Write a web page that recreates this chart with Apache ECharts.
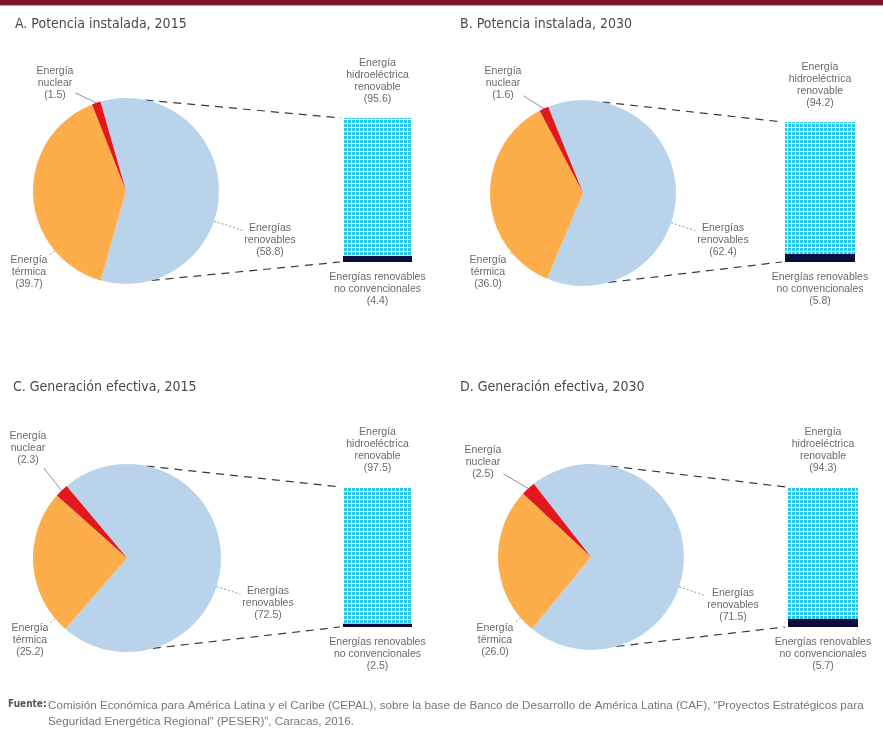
<!DOCTYPE html>
<html><head><meta charset="utf-8">
<script src="https://cdn.jsdelivr.net/npm/echarts@6/dist/echarts.min.js"></script>
<style>html,body{margin:0;padding:0;background:#fff}#c{width:883px;height:745px}</style>
</head><body><div id="c"></div>
<script>
// ---- data ----
const panelTitles = ['A. Potencia instalada, 2015', 'B. Potencia instalada, 2030', 'C. Generación efectiva, 2015', 'D. Generación efectiva, 2030'];
const pieCategories = ['Energías renovables', 'Energía térmica', 'Energía nuclear'];
const pieA = [58.8, 39.7, 1.5];
const pieB = [62.4, 36.0, 1.6];
const pieC = [72.5, 25.2, 2.3];
const pieD = [71.5, 26.0, 2.5];
const barCategories = ['Energías renovables no convencionales', 'Energía hidroeléctrica renovable'];
const barA = [4.4, 95.6];
const barB = [5.8, 94.2];
const barC = [2.5, 97.5];
const barD = [5.7, 94.3];
const sourceLabel = 'Fuente:';
const sourceText = ['Comisión Económica para América Latina y el Caribe (CEPAL), sobre la base de Banco de Desarrollo de América Latina (CAF), “Proyectos Estratégicos para',
  'Seguridad Energética Regional” (PESER)”, Caracas, 2016.'];

const pies = [pieA, pieB, pieC, pieD];
const bars = [barA, barB, barC, barD];

// ---- layout ----
const FONT = '"Liberation Sans",Arial,sans-serif';
const NFONT = '"Liberation Sans Narrow","DejaVu Sans Condensed","Liberation Sans",sans-serif';
const layout = [
  {pc:[126,191], r:93, grid:{left:343, top:118, width:69, height:144}, start:106, title:[10,12],
   lab:[[144,49],[-97,81],[-71,-108]]},
  {pc:[583,193], r:93, grid:{left:785, top:122, width:70, height:140}, start:112, title:[455,12],
   lab:[[140,47],[-95,79],[-80,-110]]},
  {pc:[127,558], r:94, grid:{left:343, top:487, width:69, height:140}, start:130, title:[8,375],
   lab:[[141,45],[-97,82],[-99,-110]]},
  {pc:[591,557], r:93, grid:{left:788, top:487, width:70, height:140}, start:128, title:[455,375],
   lab:[[142,48],[-96,83],[-108,-95]]}
];
const pieColors = ['#b9d3ea', '#fdae4b', '#e3181f'];
const labelNames = [['Energías','renovables'], ['Energía','térmica'], ['Energía','nuclear']];

// pattern for hydro bar
const pc = document.createElement('canvas');
pc.width = 4; pc.height = 4;
const pctx = pc.getContext('2d');
pctx.fillStyle = '#ffffff'; pctx.fillRect(0,0,4,4);
pctx.fillStyle = '#2cc7e6'; pctx.fillRect(0,0,3,3);

const chart = echarts.init(document.getElementById('c'), null, {renderer:'canvas'});

const grids = [], xAxes = [], yAxes = [], series = [], titles = [], graphics = [];

graphics.push({type:'rect', shape:{x:0,y:0,width:883,height:5}, style:{fill:'#7d1224'}});
graphics.push({type:'rect', shape:{x:0,y:5,width:883,height:1}, style:{fill:'#c9a0a8'}});

const lblStyle = {fontFamily:FONT, fontSize:10.5, color:'#6a6a6a', lineHeight:12, align:'center', overflow:'none'};

layout.forEach((L, i) => {
  titles.push({text: panelTitles[i], left: L.title[0], top: L.title[1],
    textStyle:{fontFamily:NFONT, fontSize:14, fontWeight:'normal', color:'#4a4a4a'}});
  grids.push({left:L.grid.left, top:L.grid.top, width:L.grid.width, height:L.grid.height});
  xAxes.push({type:'category', gridIndex:i, data:['x'], show:false});
  yAxes.push({type:'value', gridIndex:i, min:0, max:100, show:false});

  const vals = pies[i];
  series.push({
    type:'pie', center:L.pc, radius:L.r, startAngle:L.start, clockwise:true,
    animation:false, silent:true, avoidLabelOverlap:false,
    data: pieCategories.map((c, k) => ({
      name:c, value:vals[k], itemStyle:{color:pieColors[k]},
      labelLine:{lineStyle:{type: k===2 ? 'solid' : [2,2], color:'#777', width:0.8}}
    })),
    label:Object.assign({show:true, position:'outside', edgeDistance:0, bleedMargin:0,
      formatter: p => labelNames[p.dataIndex].join('\n') + '\n(' + p.value.toFixed(1) + ')'}, lblStyle),
    labelLine:{show:true, length:10, length2:10},
    labelLayout: (params) => {
      const k = params.dataIndex;
      const off = L.lab[k];
      const cx = L.pc[0] + off[0], cy = L.pc[1] + off[1];
      const w = params.labelRect.width, h = params.labelRect.height;
      let s;
      if (k === 2 && params.labelLinePoints) {
        s = params.labelLinePoints[0];
      } else {
        const d = Math.hypot(off[0], off[1]);
        s = [L.pc[0] + off[0]/d*L.r, L.pc[1] + off[1]/d*L.r];
      }
      const dx = s[0]-cx, dy = s[1]-cy;
      const t = Math.min((w/2+2)/Math.abs(dx||1e-6), (h/2+2)/Math.abs(dy||1e-6));
      const e = [cx + dx*t, cy + dy*t];
      return {x: cx, y: cy, align:'center', verticalAlign:'middle', hideOverlap:false, labelLinePoints:[s, e, e]};
    }
  });

  const bv = bars[i];
  series.push({
    type:'bar', xAxisIndex:i, yAxisIndex:i, stack:'s'+i, barWidth:'100%', animation:false, silent:true,
    name: barCategories[0], data:[bv[0]], itemStyle:{color:'#0b0e3d'},
    label:Object.assign({show:true, position:'bottom', distance:9,
      formatter: p => 'Energías renovables\nno convencionales\n(' + p.value.toFixed(1) + ')'}, lblStyle)
  });
  series.push({
    type:'bar', xAxisIndex:i, yAxisIndex:i, stack:'s'+i, barWidth:'100%', animation:false, silent:true,
    name: barCategories[1], data:[bv[1]], itemStyle:{color:{image:pc, repeat:'repeat'}},
    label:Object.assign({show:true, position:'top', distance:13,
      formatter: p => 'Energía\nhidroeléctrica\nrenovable\n(' + p.value.toFixed(1) + ')'}, lblStyle)
  });

  // dashed connectors from pie rim to bar corners
  const a1 = 12*Math.PI/180, a2 = 164*Math.PI/180;
  const p1 = [L.pc[0] + L.r*Math.sin(a1), L.pc[1] - L.r*Math.cos(a1)];
  const p2 = [L.pc[0] + L.r*Math.sin(a2), L.pc[1] - L.r*Math.cos(a2)];
  graphics.push({type:'line', shape:{x1:p1[0], y1:p1[1], x2:L.grid.left-2, y2:L.grid.top},
    style:{stroke:'#3a3a3a', lineWidth:1.2, lineDash:[8,6]}});
  graphics.push({type:'line', shape:{x1:p2[0], y1:p2[1], x2:L.grid.left-3, y2:L.grid.top+L.grid.height},
    style:{stroke:'#3a3a3a', lineWidth:1.2, lineDash:[8,6]}});
});

graphics.push({type:'text', left:8, top:699, style:{text:sourceLabel, font:'bold 10px ' + NFONT, fill:'#555'}});
graphics.push({type:'text', left:48, top:698, style:{text:sourceText.join('\n'), font:'11.7px ' + FONT, fill:'#777', lineHeight:16}});

chart.setOption({
  backgroundColor:'#ffffff',
  animation:false,
  title: titles,
  grid: grids, xAxis: xAxes, yAxis: yAxes,
  series: series,
  graphic: graphics
});
</script></body></html>
